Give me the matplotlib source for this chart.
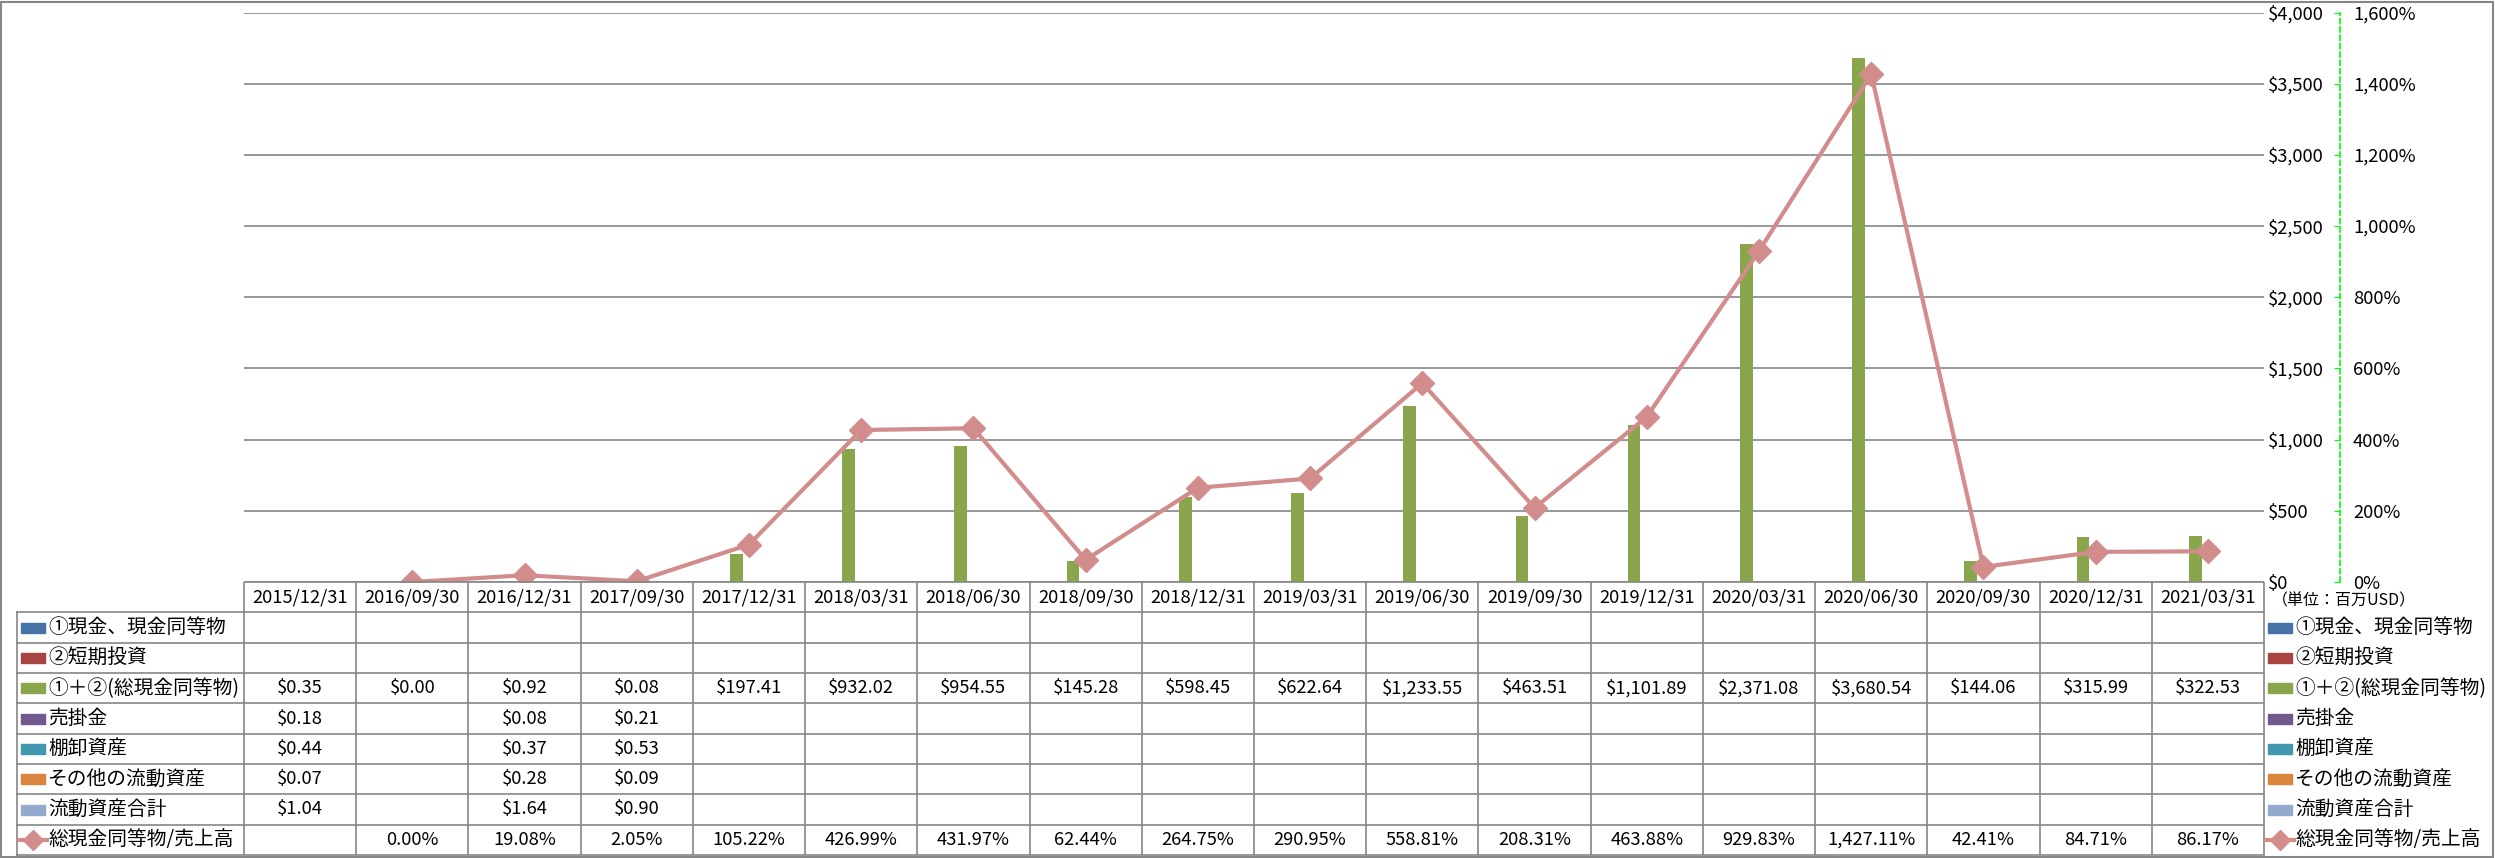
import matplotlib
matplotlib.use("Agg")
import matplotlib.pyplot as plt
import matplotlib.transforms as mtransforms
from matplotlib.lines import Line2D
from matplotlib.patches import Rectangle
from matplotlib.ticker import FuncFormatter
import numpy as np

plt.rcParams['font.family'] = ['Noto Sans CJK JP', 'DejaVu Sans']

# データ (単位: 百万USD)
dates = ['2015/12/31', '2016/09/30', '2016/12/31', '2017/09/30', '2017/12/31',
         '2018/03/31', '2018/06/30', '2018/09/30', '2018/12/31', '2019/03/31',
         '2019/06/30', '2019/09/30', '2019/12/31', '2020/03/31', '2020/06/30',
         '2020/09/30', '2020/12/31', '2021/03/31']
N = None
cash = [N] * 18
short_inv = [N] * 18
total_cash = [0.35, 0.00, 0.92, 0.08, 197.41, 932.02, 954.55, 145.28, 598.45,
              622.64, 1233.55, 463.51, 1101.89, 2371.08, 3680.54, 144.06, 315.99, 322.53]
receivables = [0.18, N, 0.08, 0.21] + [N] * 14
inventory = [0.44, N, 0.37, 0.53] + [N] * 14
other_assets = [0.07, N, 0.28, 0.09] + [N] * 14
current_assets = [1.04, N, 1.64, 0.90] + [N] * 14
cash_ratio = [N, 0.00, 19.08, 2.05, 105.22, 426.99, 431.97, 62.44, 264.75, 290.95,
              558.81, 208.31, 463.88, 929.83, 1427.11, 42.41, 84.71, 86.17]

bar_series = [cash, short_inv, total_cash, receivables, inventory, other_assets, current_assets]
bar_names = ['①現金、現金同等物', '②短期投資', '①＋②(総現金同等物)', '売掛金',
             '棚卸資産', 'その他の流動資産', '流動資産合計']
line_name = '総現金同等物/売上高'
bar_colors = ['#4672A8', '#A84442', '#8AA64C', '#71588F', '#4198AF', '#DB843D', '#93A9CF']
line_color = '#D28C8C'
grid_color = '#868686'
FS = 13.2      # 数字
FS_JP = 14.2   # 系列名


def to_arr(vals):
    return np.array([np.nan if v is None else v for v in vals], dtype=float)


fig = plt.figure(figsize=(24.95, 8.58), dpi=100)
L, R = 244 / 2495, 2264 / 2495
B, T = 1 - 582 / 858, 1 - 12.5 / 858
ax = fig.add_axes([L, B, R - L, T - B])
x = np.arange(len(dates))

# 棒グラフ
w = 0.113
for i, (vals, c) in enumerate(zip(bar_series, bar_colors)):
    ax.bar(x + (i - 3) * w, to_arr(vals), width=w, color=c, zorder=2)

ax.set_xlim(-0.5, len(dates) - 0.5)
ax.set_ylim(0, 4000)
ax.set_yticks(np.arange(0, 4001, 500))
ax.set_xticks([])
ax.grid(axis='y', color=grid_color, lw=1.2)
ax.set_axisbelow(True)
for s in ax.spines.values():
    s.set_visible(False)

# 折れ線 (第2軸)
ax2 = ax.twinx()
ax2.plot(x, to_arr(cash_ratio), color=line_color, lw=3, marker='D', ms=12,
         mfc=line_color, mec=line_color, zorder=3)
ax2.set_ylim(0, 1600)
ax2.set_yticks(np.arange(0, 1601, 200))
ax2.yaxis.set_major_formatter(FuncFormatter(lambda v, p: '{:,.0f}%'.format(v)))
for k in ['top', 'left', 'bottom']:
    ax2.spines[k].set_visible(False)
ax2.spines['right'].set_position(('outward', 55))
ax2.spines['right'].set_color('#00FF00')
ax2.spines['right'].set_linestyle((0, (3, 2)))
ax2.spines['right'].set_linewidth(1.2)
ax2.tick_params(axis='y', direction='in', length=4, color='#00FF00', pad=9, labelsize=FS)

# 第1軸の目盛ラベルも右側へ (twinx の後で設定)
ax.yaxis.tick_right()
ax.yaxis.set_major_formatter(FuncFormatter(lambda v, p: '${:,.0f}'.format(v)))
ax.tick_params(axis='y', length=0, pad=3, labelsize=FS)

# データテーブル
tab_bottom = 1 - 855 / 858
tab = fig.add_axes([L, tab_bottom, R - L, B - tab_bottom])
tab.set_xlim(-0.5, len(dates) - 0.5)
tab.set_ylim(9, 0)
tab.axis('off')
ft = mtransforms.blended_transform_factory(fig.transFigure, tab.transData)
x_lab = 17 / 2495

n = len(dates)
tab.vlines(np.arange(n + 1) - 0.5, 0, 9, color=grid_color, lw=1.2, clip_on=False)
tab.hlines(0, -0.5, n - 0.5, color=grid_color, lw=1.2, clip_on=False)
for r in range(1, 10):
    tab.add_line(Line2D([x_lab, R], [r, r], transform=ft, color=grid_color, lw=1.2, clip_on=False))
tab.add_line(Line2D([x_lab, x_lab], [1, 9], transform=ft, color=grid_color, lw=1.2, clip_on=False))

for i, d in enumerate(dates):
    tab.text(i, 0.5, d, ha='center', va='center', fontsize=FS, clip_on=False)

rows = [(vals, '${:,.2f}') for vals in bar_series] + [(cash_ratio, '{:,.2f}%')]
for r, (vals, fmt) in enumerate(rows):
    for i, v in enumerate(vals):
        if v is not None:
            tab.text(i, r + 1.5, fmt.format(v), ha='center', va='center', fontsize=FS, clip_on=False)


def legend_key(xk, r, k):
    if k < len(bar_names):
        tab.add_patch(Rectangle((xk, r + 1.34), 24 / 2495, 0.33, transform=ft,
                                color=bar_colors[k], clip_on=False))
    else:
        tab.add_line(Line2D([xk - 2 / 2495, xk + 26 / 2495], [r + 1.5, r + 1.5], transform=ft,
                            color=line_color, lw=3, clip_on=False))
        tab.add_line(Line2D([xk + 12 / 2495], [r + 1.5], transform=ft, marker='D', ms=10,
                            color=line_color, clip_on=False))


names = bar_names + [line_name]
for r, name in enumerate(names):
    legend_key(21 / 2495, r, r)
    tab.text(48 / 2495, r + 1.5, name, transform=ft, ha='left', va='center',
             fontsize=FS_JP, clip_on=False)
    legend_key(2268 / 2495, r, r)
    tab.text(2295 / 2495, r + 1.5, name, transform=ft, ha='left', va='center',
             fontsize=FS_JP, clip_on=False)

tab.text(2272 / 2495, 0.64, '（単位：百万USD）', transform=ft, ha='left', va='center',
         fontsize=11.5, clip_on=False)

# 外枠
fig.add_artist(Rectangle((0.0006, 0.001), 0.9985, 0.997, transform=fig.transFigure,
                         fill=False, edgecolor=grid_color, lw=1.5))

fig.savefig('out.png', dpi=100)
